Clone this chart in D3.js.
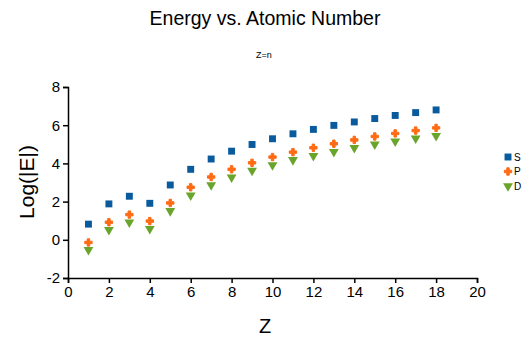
<!DOCTYPE html>
<html>
<head>
<meta charset="utf-8">
<script src="https://cdn.jsdelivr.net/npm/d3@7"></script>
<style>
  body { margin: 0; background: #fff; }
  text { font-family: "Liberation Sans", Arial, sans-serif; fill: #000; }
  .axis path, .axis line { stroke: #000; stroke-width: 1.5; }
</style>
</head>
<body>
<svg id="chart"></svg>
<script>
// data
const zValues = [1, 2, 3, 4, 5, 6, 7, 8, 9, 10, 11, 12, 13, 14, 15, 16, 17, 18];
const sValues = [0.82, 1.88, 2.28, 1.91, 2.87, 3.69, 4.23, 4.64, 4.99, 5.29, 5.55, 5.78, 5.99, 6.17, 6.35, 6.51, 6.66, 6.80];
const pValues = [-0.14, 0.92, 1.32, 0.98, 1.93, 2.75, 3.29, 3.69, 4.03, 4.33, 4.59, 4.82, 5.03, 5.23, 5.41, 5.57, 5.72, 5.86];
const dValues = [-0.52, 0.52, 0.92, 0.57, 1.51, 2.33, 2.87, 3.27, 3.62, 3.91, 4.18, 4.40, 4.61, 4.82, 5.00, 5.15, 5.31, 5.44];
const seriesNames = ['S', 'P', 'D'];
const xTicks = [0, 2, 4, 6, 8, 10, 12, 14, 16, 18, 20];
const yTicks = [-2, 0, 2, 4, 6, 8];

const width = 527, height = 337;
const margin = {top: 87, right: 50, bottom: 59, left: 68};
const w = width - margin.left - margin.right;
const h = height - margin.top - margin.bottom;

const svg = d3.select('#chart')
    .attr('width', width)
    .attr('height', height);

const chart = svg.append('g')
    .attr('transform', `translate(${margin.left},${margin.top})`);

const xScale = d3.scaleLinear().domain([0, 20]).range([0, w]);
const yScale = d3.scaleLinear().domain([-2, 8]).range([h, 0]);

// plain hyphen for negatives, like the original
const fmt = d => String(d);

const xAxis = d3.axisBottom(xScale).tickValues(xTicks).tickFormat(fmt)
    .tickSizeOuter(0).tickSize(5).tickPadding(3);
const yAxis = d3.axisLeft(yScale).tickValues(yTicks).tickFormat(fmt)
    .tickSizeOuter(0).tickSize(5).tickPadding(3);

const xAxisG = chart.append('g')
    .attr('class', 'axis x-axis')
    .attr('transform', `translate(0,${h})`)
    .call(xAxis);

const yAxisG = chart.append('g')
    .attr('class', 'axis y-axis')
    .call(yAxis);

[xAxisG, yAxisG].forEach(g => g.attr('font-family', null).attr('font-size', null)
    .selectAll('text')
    .style('font-size', '15px')
    .style('fill', '#000'));

// series setup
const series = [
  {name: 'S', values: sValues, color: '#0a5b9e', shape: d3.symbolSquare, size: 48, rot: 0},
  {name: 'P', values: pValues, color: '#ff6a13', shape: d3.symbolCross, size: 30, rot: 0},
  {name: 'D', values: dValues, color: '#6aa52b', shape: d3.symbolTriangle, size: 42, rot: 180}
];

series.forEach(s => {
  const sym = d3.symbol().type(s.shape).size(s.size);
  chart.selectAll('.pt-' + s.name)
      .data(zValues.map((z, i) => ({z: z, v: s.values[i]})))
      .join('path')
      .attr('class', 'pt-' + s.name)
      .attr('d', sym)
      .attr('fill', s.color)
      .attr('stroke', s.name === 'P' ? s.color : 'none')
      .attr('stroke-width', 1)
      .attr('stroke-linejoin', 'round')
      .attr('transform', d => `translate(${xScale(d.z)},${yScale(d.v)}) rotate(${s.rot})`);
});

// legend
const legend = svg.append('g')
    .attr('transform', 'translate(508,157)');

series.forEach((s, i) => {
  const g = legend.append('g').attr('transform', `translate(0,${i * 14.5})`);
  g.append('path')
      .attr('d', d3.symbol().type(s.shape).size(s.size))
      .attr('fill', s.color)
      .attr('stroke', s.name === 'P' ? s.color : 'none')
      .attr('stroke-linejoin', 'round')
      .attr('transform', `rotate(${s.rot})`);
  g.append('text')
      .attr('x', 6)
      .attr('y', 3.5)
      .style('font-size', '10px')
      .text(s.name);
});

// titles
svg.append('text')
    .attr('x', 265)
    .attr('y', 25)
    .style('text-anchor', 'middle')
    .style('font-size', '19.5px')
    .text('Energy vs. Atomic Number');

svg.append('text')
    .attr('x', 264)
    .attr('y', 58)
    .style('text-anchor', 'middle')
    .style('font-size', '9px')
    .text('Z=n');

svg.append('text')
    .attr('x', 265)
    .attr('y', 333)
    .style('text-anchor', 'middle')
    .style('font-size', '20px')
    .text('Z');

svg.append('text')
    .attr('transform', 'translate(34,182) rotate(-90)')
    .style('text-anchor', 'middle')
    .style('font-size', '21px')
    .text('Log(|E|)');
</script>
</body>
</html>
